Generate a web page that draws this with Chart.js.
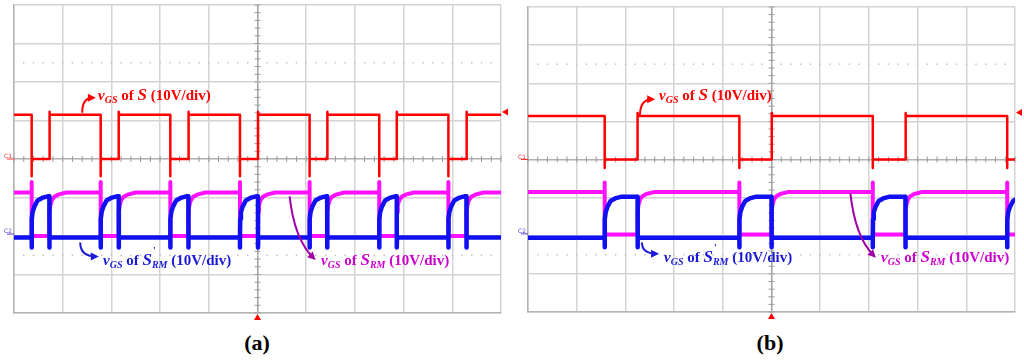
<!DOCTYPE html>
<html>
<head>
<meta charset="utf-8">
<script src="https://cdn.jsdelivr.net/npm/chart.js@4.4.0/dist/chart.umd.min.js"></script>
<style>
  body { margin: 0; background: #fff; width: 1024px; height: 362px; position: relative; overflow: hidden; font-family: "Liberation Serif", "DejaVu Serif", serif; }
  canvas { position: absolute; top: 0; }
  .lbl { position: absolute; font-weight: bold; font-size: 15px; line-height: 15px; white-space: nowrap; }
  .lbl .big { font-size: 17px; font-style: italic; }
  .lbl sub { font-size: 10px; font-style: italic; vertical-align: baseline; position: relative; top: 3px; }
  .lbl .ss { position: relative; }
  .lbl .pr { position: absolute; left: 1px; top: -9px; font-size: 10px; }
  .cap { position: absolute; top: 332px; font-weight: bold; font-size: 22px; line-height: 22px; width: 60px; text-align: center; color: #000; }
  .red { color: #ff0000; }
  .blue { color: #1a1ad8; }
  .mag { color: #cc00cc; }
</style>
</head>
<body>
<canvas id="scope-a" width="512" height="330" style="left:0"></canvas>
<canvas id="scope-b" width="512" height="330" style="left:512px"></canvas>

<div class="lbl red"  style="left:98px;top:87px"><i>v</i><sub>GS</sub> of <span class="big">S</span> (10V/div)</div>
<div class="lbl blue" style="left:103px;top:252px"><i>v</i><sub>GS</sub> of <span class="big">S</span><span class="ss"><span class="pr">'</span><sub>RM</sub></span> (10V/div)</div>
<div class="lbl mag"  style="left:321px;top:252px"><i>v</i><sub>GS</sub> of <span class="big">S</span><sub>RM</sub> (10V/div)</div>

<div class="lbl red"  style="left:659px;top:87px"><i>v</i><sub>GS</sub> of <span class="big">S</span> (10V/div)</div>
<div class="lbl blue" style="left:664px;top:249px"><i>v</i><sub>GS</sub> of <span class="big">S</span><span class="ss"><span class="pr">'</span><sub>RM</sub></span> (10V/div)</div>
<div class="lbl mag"  style="left:881px;top:249px"><i>v</i><sub>GS</sub> of <span class="big">S</span><sub>RM</sub> (10V/div)</div>

<div class="cap" style="left:227px">(<span>a</span>)</div>
<div class="cap" style="left:740px">(<span>b</span>)</div>

<script>
// Oscyloskop: dwa zrzuty, jednostki = działki (x 0..10, y -4..4)

// --- zbocza sygnału S (czas w działkach) ---
const FALL_A = [0.363, 1.78, 3.21, 4.64, 6.07, 7.50, 8.92];
const RISE_A = [0.726, 2.15, 3.58, 5.01, 6.43, 7.86, 9.29];
const FALL_B = [1.575, 4.34, 7.08, 9.84];
const RISE_B = [2.25, 5.0, 7.75];

// --- poziomy [wysoki, niski] ---
const RED_A = [1.15, 0];
const MAG_A = [-0.87, -2.0];
const BLUE_A = [-0.97, -2.04];
const RED_B = [1.14, 0];
const MAG_B = [-0.85, -1.97];
const BLUE_B = [-0.98, -2.05];

// --- szpilki na zboczach ---
const RED_SPIKE_A = -0.45;
const RED_SPIKE_B = -0.22;
const MAG_SPIKE = -0.6;
const BLUE_SPIKE = -2.3;

const BLUE_T = [0, 0.005, 0.02, 0.055, 0.12, 0.23, 0.33];
const BLUE_F = [0, 0.45, 0.62, 0.75, 0.90, 0.97, 1];
const MAG_T = [0, 0.005, 0.02, 0.05, 0.10, 0.18, 0.35];
const MAG_F = [0, 0.55, 0.70, 0.82, 0.90, 0.95, 1];

// --- siatka pomocnicza ---
const DOTTED_Y = [2.5, -2.5];

// --- strzałki opisów [x0, y0, x1, y1, kx, ky] ---
const ARROWS_A = [[1.40, 1.20, 1.62, 1.59, 0, 1], [1.36, -2.17, 1.68, -2.53, 0, 1], [5.66, -0.97, 6.15, -2.57, 0.2, 0.7]];
const ARROWS_B = [[2.30, 1.16, 2.55, 1.58, 0, 1], [2.34, -2.18, 2.63, -2.47, 0, 1], [6.62, -0.88, 7.10, -2.52, 0.2, 0.7]];
const ARROW_COLORS = ['#ff0000', '#1a1ad8', '#a000a8'];

// markery: poziom wyzwalania, C1, C2
const TRIG_A = 1.22, TRIG_B = 1.23;
const C2_LEVEL = -1.95;

function redTrace(falls, rises, lv, spike) {
    const pts = [{ x: 0, y: lv[0] }];
    falls.forEach((f, i) => {
        pts.push({ x: f, y: lv[0] }, { x: f, y: spike }, { x: f, y: lv[1] });
        const r = rises[i];
        if (r !== undefined) pts.push({ x: r, y: lv[1] }, { x: r, y: lv[0] + 0.08 }, { x: r + 0.01, y: lv[0] });
    });
    pts.push({ x: 10, y: rises.length === falls.length ? lv[0] : lv[1] });
    return pts;
}

function magTrace(falls, rises, lv) {
    const pts = [{ x: 0, y: lv[0] }];
    falls.forEach((f, i) => {
        pts.push({ x: f, y: lv[0] }, { x: f, y: MAG_SPIKE }, { x: f, y: lv[1] });
        const r = rises[i];
        if (r === undefined) return;
        pts.push({ x: r, y: lv[1] });
        MAG_T.forEach((t, k) => pts.push({ x: r + t, y: lv[1] + MAG_F[k] * (lv[0] - lv[1]) }));
    });
    pts.push({ x: 10, y: rises.length === falls.length ? lv[0] : lv[1] });
    return pts;
}

function blueTrace(falls, rises, lv) {
    const pts = [{ x: 0, y: lv[1] }];
    falls.forEach((f, i) => {
        pts.push({ x: f, y: lv[1] }, { x: f, y: BLUE_SPIKE });
        BLUE_T.forEach((t, k) => pts.push({ x: f + t, y: lv[1] + BLUE_F[k] * (lv[0] - lv[1]) }));
        const r = rises[i];
        if (r === undefined) return;
        pts.push({ x: r, y: lv[0] }, { x: r, y: BLUE_SPIKE }, { x: r + 0.005, y: lv[1] });
    });
    pts.push({ x: 10, y: rises.length === falls.length ? lv[1] : lv[0] });
    return pts;
}

// --- plugin: krzyż środkowy, kropki, strzałki, markery ---
const scopePlugin = {
    id: 'scope',
    beforeDatasetsDraw(chart) {
        const { ctx, scales: { x, y } } = chart;
        ctx.save();
        ctx.fillStyle = '#c4c4c4';
        DOTTED_Y.forEach(v => {
            const py = y.getPixelForValue(v);
            for (let k = 1; k < 50; k++) ctx.fillRect(x.getPixelForValue(k / 5) - 0.75, py - 0.75, 1.5, 1.5);
        });
        const cx = x.getPixelForValue(5), cy = y.getPixelForValue(0);
        ctx.strokeStyle = '#9c9c9c';
        ctx.lineWidth = 1;
        ctx.beginPath();
        for (let k = -20; k <= 20; k++) {
            const py = y.getPixelForValue(k / 5);
            ctx.moveTo(cx - 3, py); ctx.lineTo(cx + 3, py);
        }
        for (let k = 0; k <= 50; k++) {
            const px = x.getPixelForValue(k / 5);
            ctx.moveTo(px, cy - 3); ctx.lineTo(px, cy + 3);
        }
        ctx.stroke();
        ctx.restore();
    },
    afterDatasetsDraw(chart, args, opts) {
        const { ctx, chartArea: a, scales: { x, y } } = chart;
        ctx.save();
        // strzałki
        opts.arrows.forEach((ar, i) => {
            const x0 = x.getPixelForValue(ar[0]), y0 = y.getPixelForValue(ar[1]);
            const x1 = x.getPixelForValue(ar[2]), y1 = y.getPixelForValue(ar[3]);
            const qx = x0 + ar[4] * (x1 - x0), qy = y0 + ar[5] * (y1 - y0);
            ctx.strokeStyle = ctx.fillStyle = ARROW_COLORS[i];
            ctx.lineWidth = 2;
            ctx.beginPath();
            ctx.moveTo(x0, y0);
            ctx.quadraticCurveTo(qx, qy, x1, y1);
            ctx.stroke();
            const ang = Math.atan2(y1 - qy, x1 - qx);
            ctx.beginPath();
            ctx.moveTo(x1 + 3 * Math.cos(ang), y1 + 3 * Math.sin(ang));
            ctx.lineTo(x1 - 5 * Math.cos(ang) + 4 * Math.sin(ang), y1 - 5 * Math.sin(ang) - 4 * Math.cos(ang));
            ctx.lineTo(x1 - 5 * Math.cos(ang) - 4 * Math.sin(ang), y1 - 5 * Math.sin(ang) + 4 * Math.cos(ang));
            ctx.closePath();
            ctx.fill();
        });
        // wyzwalanie (prawa krawędź) i pozycja czasu (dół)
        ctx.fillStyle = '#ff0000';
        const ty = y.getPixelForValue(opts.trig);
        ctx.beginPath();
        ctx.moveTo(a.right + 1, ty); ctx.lineTo(a.right + 7, ty - 3.5); ctx.lineTo(a.right + 7, ty + 3.5);
        ctx.closePath(); ctx.fill();
        const bx = x.getPixelForValue(5);
        ctx.beginPath();
        ctx.moveTo(bx, a.bottom + 1); ctx.lineTo(bx - 3.5, a.bottom + 7); ctx.lineTo(bx + 3.5, a.bottom + 7);
        ctx.closePath(); ctx.fill();
        // C1 / C2
        ctx.font = '6px "DejaVu Sans"';
        ctx.textAlign = 'right';
        ctx.lineWidth = 1;
        [[0, '#ff3030', 'C1'], [C2_LEVEL, '#5a3ad8', 'C2']].forEach(m => {
            const py = y.getPixelForValue(m[0]);
            ctx.fillStyle = ctx.strokeStyle = m[1];
            ctx.fillText(m[2], a.left - 2, py - 1);
            ctx.beginPath(); ctx.moveTo(a.left - 7, py); ctx.lineTo(a.left, py); ctx.stroke();
        });
        ctx.restore();
    }
};

function makeScope(id, pad, red, mag, blue, arrows, trig) {
    return new Chart(document.getElementById(id), {
        type: 'line',
        data: {
            datasets: [
                { data: blue, borderColor: '#1010f0', borderWidth: 4.5, order: 0 },
                { data: mag, borderColor: '#ff10ff', borderWidth: 4, order: 1 },
                { data: red, borderColor: '#ff0000', borderWidth: 2.5, order: 2 }
            ]
        },
        options: {
            responsive: false,
            animation: false,
            layout: { padding: pad },
            elements: { point: { radius: 0 }, line: { tension: 0, borderJoinStyle: 'round' } },
            plugins: {
                legend: { display: false },
                tooltip: { enabled: false },
                scope: { arrows: arrows, trig: trig }
            },
            scales: {
                x: {
                    type: 'linear', min: 0, max: 10,
                    ticks: { display: false, stepSize: 1 },
                    grid: { color: c => c.tick && c.tick.value === 5 ? '#a0a0a0' : '#d4d4d4', lineWidth: 1.5, drawTicks: false },
                    border: { color: '#b4b4b4', width: 1.5 }
                },
                y: {
                    type: 'linear', min: -4, max: 4,
                    ticks: { display: false, stepSize: 1 },
                    grid: { color: c => c.tick && c.tick.value === 0 ? '#b0b0b0' : '#d4d4d4', lineWidth: 1.5, drawTicks: false },
                    border: { color: '#b4b4b4', width: 1.5 }
                }
            }
        },
        plugins: [scopePlugin]
    });
}

makeScope('scope-a', { left: 14, right: 11, top: 5, bottom: 17 },
    redTrace(FALL_A, RISE_A, RED_A, RED_SPIKE_A), magTrace(FALL_A, RISE_A, MAG_A), blueTrace(FALL_A, RISE_A, BLUE_A),
    ARROWS_A, TRIG_A);
makeScope('scope-b', { left: 16, right: 9, top: 7, bottom: 18 },
    redTrace(FALL_B, RISE_B, RED_B, RED_SPIKE_B), magTrace(FALL_B, RISE_B, MAG_B), blueTrace(FALL_B, RISE_B, BLUE_B),
    ARROWS_B, TRIG_B);
</script>
</body>
</html>
